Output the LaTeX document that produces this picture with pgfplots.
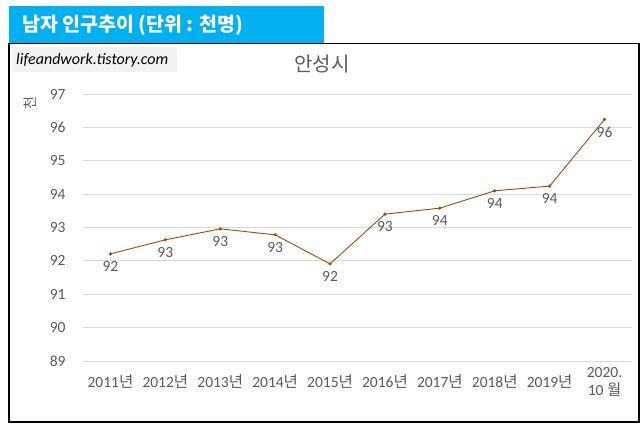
\documentclass[border=0pt]{standalone}
\usepackage{pgfplots}
\pgfplotsset{compat=1.18}
\usepackage{fontspec}
\setmainfont{Carlito}
\newfontfamily\kr{Noto Sans CJK KR}
\definecolor{txtgray}{HTML}{595959}
\definecolor{gridgray}{HTML}{D9D9D9}
\definecolor{linebrown}{HTML}{9E480E}
\definecolor{barblue}{HTML}{00B0F0}
\definecolor{wmgray}{HTML}{F2F2F2}
\begin{document}
\begin{tikzpicture}[x=1pt,y=1pt]
\path (0,0) rectangle (644,433);
% title bar
\fill[barblue] (9,390) rectangle (324,427);
\node[anchor=west, text=white, font=\kr\bfseries\fontsize{19.5}{21}\selectfont, inner sep=0pt] at (22,408) {남자 인구추이 (단위 : 천명)};
% chart frame
\draw[black, line width=1.3pt] (9,11) rectangle (639,389.5);
% watermark
\fill[wmgray] (12,361) rectangle (177,386);
\node[anchor=west, inner sep=0pt, font=\itshape\fontsize{16}{18}\selectfont, text=black] at (16,373) {lifeandwork.tistory.com};
% chart title
\node[text=txtgray, font=\kr\fontsize{20}{22}\selectfont] at (322,369) {안성시};
% y label
\node[text=txtgray, font=\kr\fontsize{14}{16}\selectfont, rotate=90] at (30,330) {천};
\begin{axis}[
  at={(83pt,72pt)}, anchor=south west,
  scale only axis, width=549pt, height=267pt,
  xmin=-0.5, xmax=9.5, ymin=89, ymax=97,
  axis line style={draw=none},
  ymajorgrids, grid style={gridgray, line width=0.8pt},
  ytick={89,90,...,97},
  xtick={0,...,9},
  xticklabels={2011{\kr 년},2012{\kr 년},2013{\kr 년},2014{\kr 년},2015{\kr 년},2016{\kr 년},2017{\kr 년},2018{\kr 년},2019{\kr 년},{2020.\\10 {\kr 월}}},
  major tick length=0pt,
  tick label style={text=txtgray, font=\fontsize{15.5}{18}\selectfont},
  xticklabel style={align=center, anchor=center, yshift=-21pt},
  yticklabel style={anchor=east, xshift=-14pt},
  /pgf/number format/assume math mode=true,
  clip=false,
]
\addplot[linebrown, line width=0.9pt, mark=*, mark size=1.1pt,
  nodes near coords, point meta=explicit,
  nodes near coords={\pgfmathprintnumber[fixed,precision=0]{\pgfplotspointmeta}},
  every node near coord/.append style={anchor=north, yshift=-3.5pt, text=txtgray, font=\fontsize{15.5}{18}\selectfont},
] coordinates {
(0,92.21) [92.21]
(1,92.63) [92.63]
(2,92.96) [92.96]
(3,92.78) [92.78]
(4,91.91) [91.91]
(5,93.40) [93.40]
(6,93.58) [93.58]
(7,94.10) [94.10]
(8,94.24) [94.24]
(9,96.24) [96.24]
};
\end{axis}
\end{tikzpicture}
\end{document}
